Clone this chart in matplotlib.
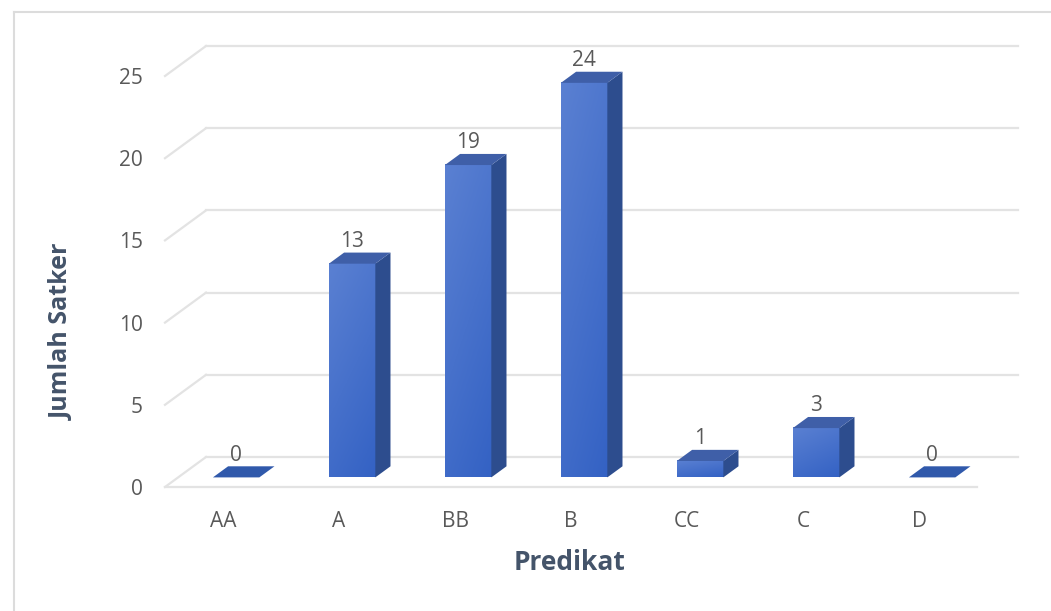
import numpy as np
import matplotlib.pyplot as plt
from matplotlib.patches import Polygon
from matplotlib.lines import Line2D

categories = ["AA", "A", "BB", "B", "CC", "C", "D"]
values = [0, 13, 19, 24, 1, 3, 0]
y_ticks = [0, 5, 10, 15, 20, 25]

plt.rcParams['font.family'] = ['Open Sans', 'DejaVu Sans']

# depth of the 3d box in data units (x: categories, y: value)
DX = 41 / 116
DY = 30 / 16.44
T_FRONT = 0.32
T_BACK = 0.69
BAR_W = 0.4

GRID = "#e3e3e3"
TEXT = "#595959"
TITLE = "#44546a"


def pt(x, y, t):
    return (x + t * DX, y + t * DY)


fig = plt.figure(figsize=(10.51, 6.11), dpi=100)
ax = fig.add_axes([165 / 1051, 124 / 611, 812 / 1051, 411 / 611])
ax.set_xlim(-0.5, 6.5)
ax.set_ylim(0, 25)
for s in ax.spines.values():
    s.set_visible(False)
ax.patch.set_alpha(0)

ax.set_xticks(range(len(categories)))
ax.set_xticklabels(categories)
ax.set_yticks(y_ticks)
ax.tick_params(length=0, labelsize=15, labelcolor=TEXT)
ax.tick_params(axis="x", pad=17)
ax.tick_params(axis="y", pad=16)

# back wall gridlines + left wall diagonals
x0, x1 = -0.5, len(categories) - 0.5
for yv in y_ticks:
    a, b = pt(x0, yv, 0), pt(x0, yv, 1)
    ax.plot([a[0], b[0]], [a[1], b[1]], color=GRID, lw=1.6, clip_on=False, zorder=1)
    c, d = pt(x0, yv, 1), pt(x1, yv, 1)
    ax.plot([c[0], d[0]], [c[1], d[1]], color=GRID, lw=1.6, clip_on=False, zorder=1)
# floor front edge
ax.plot([x0, x1], [0, 0], color=GRID, lw=1.6, clip_on=False, zorder=1)

# light at top-left, darker towards the bottom
grad = np.linspace(0, 1, 100).reshape(-1, 1) * 0.7 + np.linspace(0, 1, 20).reshape(1, -1) * 0.3
cmap = plt.matplotlib.colors.LinearSegmentedColormap.from_list("bar", ["#5a80d2", "#3462c4"])

for i, v in enumerate(values):
    l, r = i - BAR_W / 2, i + BAR_W / 2
    if v > 0:
        fl = pt(l, 0, T_FRONT)
        fr = pt(r, v, T_FRONT)
        ax.imshow(grad, extent=[fl[0], fr[0], fl[1], fr[1]], cmap=cmap, aspect="auto",
                  origin="upper", zorder=3, clip_on=False, interpolation="bilinear")
        side = [pt(r, 0, T_FRONT), pt(r, v, T_FRONT), pt(r, v, T_BACK), pt(r, 0, T_BACK)]
        ax.add_patch(Polygon(side, closed=True, fc="#2d4d8e", ec="none", zorder=3, clip_on=False))
        top = [pt(l, v, T_FRONT), pt(r, v, T_FRONT), pt(r, v, T_BACK), pt(l, v, T_BACK)]
        ax.add_patch(Polygon(top, closed=True, fc="#3f5fa8", ec="none", zorder=3, clip_on=False))
    else:
        top = [pt(l, 0, T_FRONT), pt(r, 0, T_FRONT), pt(r, 0, T_BACK), pt(l, 0, T_BACK)]
        ax.add_patch(Polygon(top, closed=True, fc="#3059ab", ec="none", zorder=3, clip_on=False))
    lx, _ = pt(i, v, T_FRONT)
    _, ly = pt(i, v, T_BACK)
    ax.annotate(str(v), (lx, ly), xytext=(0, 0.5), textcoords="offset points",
                ha="center", va="bottom", fontsize=15, color=TEXT, zorder=4,
                annotation_clip=False)

fig.text(62 / 1051, 1 - 332 / 611, "Jumlah Satker", rotation=90, ha="center", va="center",
         fontsize=18, fontweight="bold", color=TITLE)
fig.text(570 / 1051, 1 - 563 / 611, "Predikat", ha="center", va="center",
         fontsize=19, fontweight="bold", color=TITLE)

# chart border (top and left edges visible)
fig.add_artist(Line2D([14 / 1051, 1], [1 - 12 / 611, 1 - 12 / 611], color="#dcdcdc", lw=1.5))
fig.add_artist(Line2D([14 / 1051, 14 / 1051], [0, 1 - 12 / 611], color="#dcdcdc", lw=1.5))

fig.savefig("out.png", dpi=100)
